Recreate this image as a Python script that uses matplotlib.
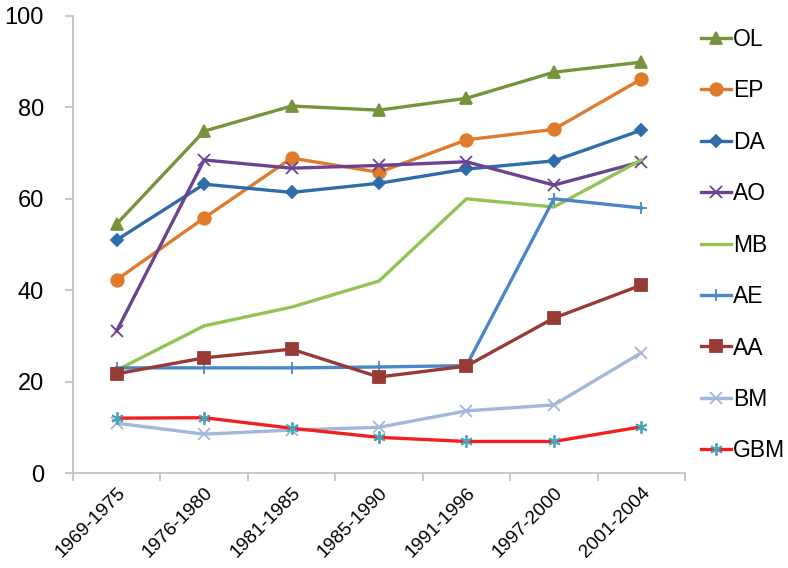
import matplotlib
matplotlib.use("Agg")
import matplotlib.pyplot as plt
from matplotlib.ticker import FixedLocator

plt.rcParams['font.family'] = ['Liberation Sans', 'DejaVu Sans']

periods = ["1969-1975", "1976-1980", "1981-1985", "1985-1990", "1991-1996", "1997-2000", "2001-2004"]
OL = [54.5, 74.8, 80.3, 79.4, 82.0, 87.7, 89.9]
EP = [42.3, 55.8, 68.9, 65.8, 72.9, 75.2, 86.2]
DA = [51.0, 63.2, 61.4, 63.4, 66.5, 68.3, 75.0]
AO = [31.1, 68.5, 66.7, 67.3, 68.1, 63.0, 68.1]
MB = [22.5, 32.2, 36.3, 42.0, 60.0, 58.2, 68.5]
AE = [23.0, 23.0, 23.0, 23.2, 23.5, 60.0, 58.0]
AA = [21.7, 25.2, 27.1, 21.0, 23.4, 33.9, 41.1]
BM = [10.9, 8.5, 9.4, 10.0, 13.6, 14.9, 26.3]
GBM = [12.0, 12.1, 9.8, 7.8, 6.9, 6.9, 10.1]

series = [
    ("OL", OL, "#77933C", "^", 9, None),
    ("EP", EP, "#E07B2C", "o", 9, None),
    ("DA", DA, "#2F6DAA", "D", 6, None),
    ("AO", AO, "#6B4391", "x", 8, None),
    ("MB", MB, "#92C353", "None", 0, None),
    ("AE", AE, "#4A86C8", "+", 9, None),
    ("AA", AA, "#973B37", "s", 8, None),
    ("BM", BM, "#A3B7DA", "x", 8, None),
    ("GBM", GBM, "#F0201E", (6, 2, 0), 9, "#4BA3B8"),
]

fig = plt.figure(figsize=(7.88, 5.68), dpi=100)
ax = fig.add_axes([73/788, 1 - 473/568, (685 - 73)/788, (473 - 16)/568])

x = list(range(len(periods)))
for name, vals, col, mk, ms, mcol in series:
    ax.plot(x, vals, color=col, lw=2.4, marker=mk, markersize=ms,
            markerfacecolor=mcol or col, markeredgecolor=mcol or col,
            markeredgewidth=1.3, label=name, solid_joinstyle='round')

ax.set_xlim(-0.5, 6.5)
ax.set_ylim(0, 100)
ax.set_yticks([0, 20, 40, 60, 80, 100])
ax.tick_params(axis='y', labelsize=17, length=6, color='#BFBFBF', width=1.2, pad=15)

ax.set_xticks(x)
ax.set_xticklabels(periods, rotation=45, ha='right', va='top', rotation_mode='anchor', fontsize=13.8)
ax.tick_params(axis='x', which='major', length=0, pad=8)
ax.xaxis.set_minor_locator(FixedLocator([i - 0.5 for i in range(8)]))
ax.tick_params(axis='x', which='minor', length=6, color='#BFBFBF', width=1.2)

for s in ['top', 'right']:
    ax.spines[s].set_visible(False)
for s in ['left', 'bottom']:
    ax.spines[s].set_color('#BFBFBF')
    ax.spines[s].set_linewidth(1.2)

leg = fig.legend(loc='upper left', bbox_to_anchor=(701/788, 1 - 28/568), frameon=False,
                 fontsize=16.5, handlelength=1.3, handletextpad=0.1, labelspacing=1.24,
                 borderaxespad=0, borderpad=0)

fig.savefig("out.png", dpi=100)
